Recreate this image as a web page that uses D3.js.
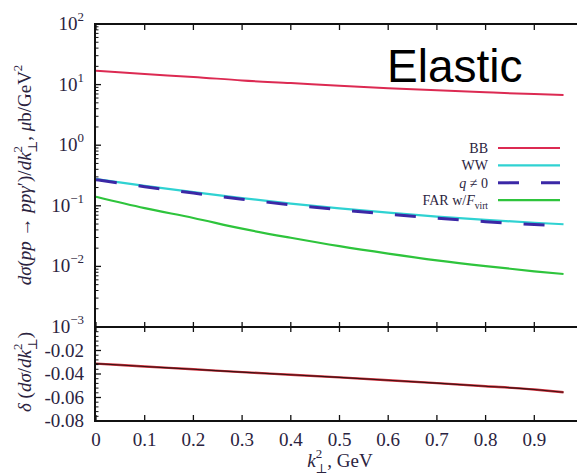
<!DOCTYPE html>
<html>
<head>
<meta charset="utf-8">
<script src="https://cdn.jsdelivr.net/npm/d3@7"></script>
<style>
  body { margin: 0; background: #fff; }
  svg { display: block; }
  .lbl { font-family: "Liberation Serif", "DejaVu Serif", serif; fill: #2b2340; }
</style>
</head>
<body>
<div id="chart"></div>
<script>
// values
const kGrid = [0, 0.1, 0.2, 0.3, 0.4, 0.5, 0.6, 0.7, 0.8, 0.9, 0.96];
const bbVals = [16.9, 14.9, 13.4, 11.7, 10.6, 9.56, 8.73, 8.04, 7.46, 6.97, 6.73];
const wwVals = [0.277, 0.213, 0.168, 0.134, 0.109, 0.091, 0.0771, 0.0665, 0.0585, 0.0525, 0.0496];
const qVals = [0.27, 0.207, 0.162, 0.128, 0.104, 0.086, 0.0728, 0.0625, 0.0548, 0.049, 0.0465];
const farVals = [0.141, 0.0914, 0.063, 0.0419, 0.0297, 0.0216, 0.0163, 0.0126, 0.0101, 0.0083, 0.0075];
const deltaVals = [-0.0312, -0.0336, -0.0360, -0.0384, -0.0406, -0.0429, -0.0453, -0.0478, -0.0504, -0.0532, -0.0555];
const xTicks = [0, 0.1, 0.2, 0.3, 0.4, 0.5, 0.6, 0.7, 0.8, 0.9];
const logTicks = [2, 1, 0, -1, -2, -3];
const deltaTicks = [-0.02, -0.04, -0.06, -0.08];

const W = 577, H = 476;
const svg = d3.select("#chart").append("svg")
  .attr("width", W).attr("height", H);

const x = d3.scaleLinear().domain([0, 1]).range([96, 583]);
const yTop = d3.scaleLog().domain([1e-3, 1e2]).range([327, 24]);
const yBot = d3.scaleLinear().domain([-0.08, 0]).range([421, 327]);

// rich text helper: segments of {t, i (italic), s: "sup"|"sub", dx}
function rich(sel, segs, size) {
  segs.forEach(s => {
    const ts = sel.append("tspan").text(s.t);
    if (s.i) ts.attr("font-style", "italic");
    if (s.s === "sup") ts.attr("baseline-shift", size * 0.5).attr("font-size", size * 0.68);
    if (s.s === "sub") ts.attr("baseline-shift", -size * 0.3).attr("font-size", size * 0.68);
    if (s.dx) ts.attr("dx", s.dx);
  });
  return sel;
}

const fs = 19;

// curves
const line = (yS) => d3.line().x((d, i) => x(kGrid[i])).y(d => yS(d)).curve(d3.curveMonotoneX);
const series = [
  { vals: bbVals, color: "#dc2a52", w: 2, dash: null },
  { vals: wwVals, color: "#2fd2d2", w: 2.2, dash: null },
  { vals: qVals, color: "#3b28a6", w: 3, dash: "21,22" },
  { vals: farVals, color: "#2ec43c", w: 2.2, dash: null }
];
series.forEach(s => {
  svg.append("path").datum(s.vals)
    .attr("d", line(yTop))
    .attr("fill", "none").attr("stroke", s.color)
    .attr("stroke-width", s.w)
    .attr("stroke-dasharray", s.dash);
});
svg.append("path").datum(deltaVals).attr("d", line(yBot))
  .attr("fill", "none").attr("stroke", "#d0303c").attr("stroke-width", 2.4);
svg.append("path").datum(deltaVals).attr("d", line(yBot))
  .attr("fill", "none").attr("stroke", "#3a1212").attr("stroke-width", 1.1);

// frame
const frame = svg.append("g").attr("stroke", "#111").attr("stroke-width", 2);
frame.append("line").attr("x1", 95).attr("x2", 95).attr("y1", 23).attr("y2", 422);
frame.append("line").attr("x1", 94).attr("x2", W).attr("y1", 24).attr("y2", 24);
frame.append("line").attr("x1", 94).attr("x2", W).attr("y1", 327).attr("y2", 327);
frame.append("line").attr("x1", 94).attr("x2", W).attr("y1", 421).attr("y2", 421);

// x ticks
const tk = svg.append("g").attr("stroke", "#111").attr("stroke-width", 1.3);
xTicks.forEach(v => {
  tk.append("line").attr("x1", x(v)).attr("x2", x(v)).attr("y1", 24).attr("y2", 30);
  tk.append("line").attr("x1", x(v)).attr("x2", x(v)).attr("y1", 322).attr("y2", 332);
  tk.append("line").attr("x1", x(v)).attr("x2", x(v)).attr("y1", 421).attr("y2", 415);
});
// log y ticks
logTicks.forEach(e => {
  const v = Math.pow(10, e);
  tk.append("line").attr("x1", 95).attr("x2", 101).attr("y1", yTop(v)).attr("y2", yTop(v));
  if (e > -3) {
    d3.range(2, 10).forEach(m => {
      const vv = m * Math.pow(10, e - 1);
      tk.append("line").attr("x1", 95).attr("x2", 98.5).attr("y1", yTop(vv)).attr("y2", yTop(vv)).attr("stroke-width", 1);
    });
  }
});
// delta y ticks
d3.range(0, 21).forEach(i => {
  const v = -0.004 * i;
  const major = i % 5 === 0;
  tk.append("line").attr("x1", 95).attr("x2", major ? 101 : 98.5)
    .attr("y1", yBot(v)).attr("y2", yBot(v)).attr("stroke-width", major ? 1.3 : 1);
});

// tick labels
xTicks.forEach(v => {
  svg.append("text").attr("class", "lbl").attr("x", x(v)).attr("y", 446)
    .attr("text-anchor", "middle").attr("font-size", fs).text(v === 0 ? "0" : v.toFixed(1));
});
logTicks.forEach(e => {
  const t = svg.append("text").attr("class", "lbl").attr("x", 84).attr("y", yTop(Math.pow(10, e)) + 6)
    .attr("text-anchor", "end").attr("font-size", fs);
  rich(t, [{ t: "10" }, { t: e < 0 ? "\u2212" + (-e) : String(e), s: "sup" }], fs);
});
deltaTicks.forEach(v => {
  svg.append("text").attr("class", "lbl").attr("x", 84).attr("y", yBot(v) + 6)
    .attr("text-anchor", "end").attr("font-size", fs).text(v.toFixed(2));
});

// axis titles
const xt = svg.append("text").attr("class", "lbl").attr("x", 340).attr("y", 467)
  .attr("text-anchor", "middle").attr("font-size", fs);
rich(xt, [{ t: "k", i: true }, { t: "2", s: "sup" }, { t: "\u22a5", s: "sub", dx: -7 }, { t: ", GeV" }], fs);

const yt = svg.append("text").attr("class", "lbl")
  .attr("transform", "translate(31,175) rotate(-90)")
  .attr("text-anchor", "middle").attr("font-size", fs);
rich(yt, [
  { t: "d\u03c3", i: true }, { t: "(" }, { t: "pp", i: true }, { t: " \u2192 " },
  { t: "pp\u03b3", i: true }, { t: "\u2032" }, { t: ")/" }, { t: "dk", i: true },
  { t: "2", s: "sup" }, { t: "\u22a5", s: "sub", dx: -7 }, { t: ", " }, { t: "\u03bc", i: true },
  { t: "b/GeV" }, { t: "2", s: "sup" }
], fs);

const yb = svg.append("text").attr("class", "lbl")
  .attr("transform", "translate(31,372) rotate(-90)")
  .attr("text-anchor", "middle").attr("font-size", fs);
rich(yb, [
  { t: "\u03b4", i: true }, { t: " (" }, { t: "d\u03c3", i: true }, { t: "/" }, { t: "dk", i: true },
  { t: "2", s: "sup" }, { t: "\u22a5", s: "sub", dx: -7 }, { t: ")" }
], fs);

// legend
const legNames = [
  [{ t: "BB" }],
  [{ t: "WW" }],
  [{ t: "q", i: true }, { t: " \u2260 0" }],
  [{ t: "FAR w/" }, { t: "F", i: true }, { t: "virt", s: "sub" }]
];
const lfs = 14;
legNames.forEach((segs, i) => {
  const ly = 148 + i * 17.4;
  const t = svg.append("text").attr("class", "lbl").attr("x", 488).attr("y", ly + 5)
    .attr("text-anchor", "end").attr("font-size", lfs);
  rich(t, segs, lfs);
  svg.append("line").attr("x1", 498).attr("x2", 560).attr("y1", ly).attr("y2", ly)
    .attr("stroke", series[i].color).attr("stroke-width", series[i].w)
    .attr("stroke-dasharray", series[i].dash);
});

// panel title
svg.append("text").attr("x", 387).attr("y", 82)
  .attr("font-family", "Liberation Sans, Arial, sans-serif")
  .attr("font-size", 46).attr("fill", "#000").text("Elastic");
</script>
</body>
</html>
